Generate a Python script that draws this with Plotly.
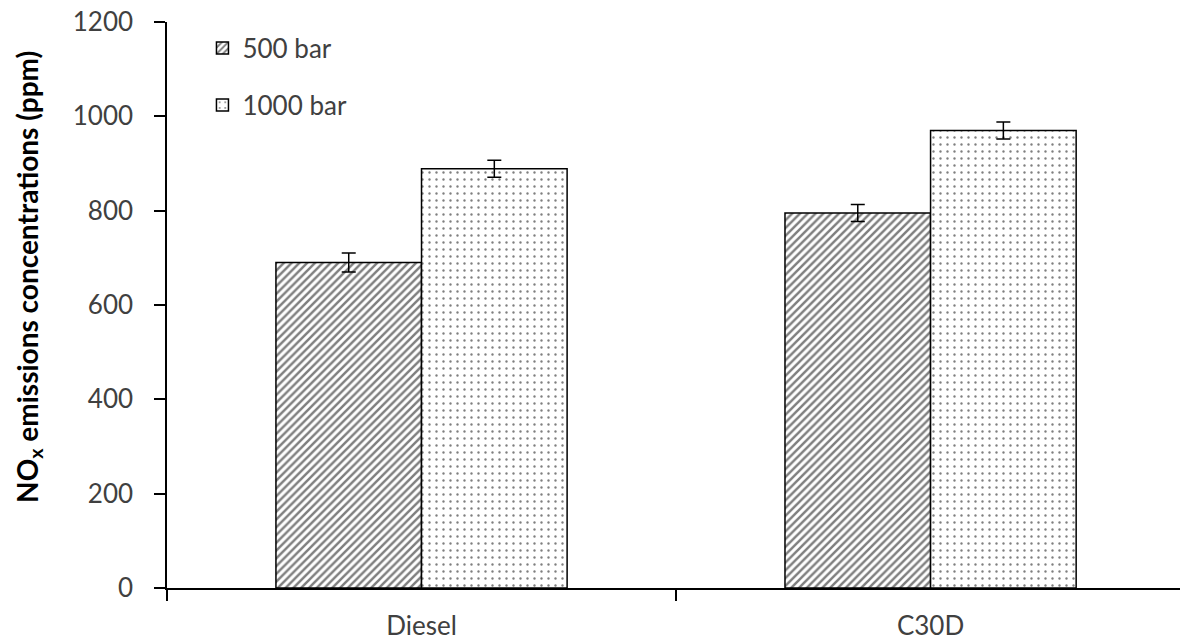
import plotly.graph_objects as go

# NOx concentrations by fuel and injection pressure
fuels = ["Diesel", "C30D"]
nox_500 = [690, 795]
nox_1000 = [889, 970]
err_500 = [20, 18]
err_1000 = [18, 18]
y_ticks = [0, 200, 400, 600, 800, 1000, 1200]

FONT = "Lato"
TEXT_COLOR = "#404040"

fig = go.Figure()
fig.add_trace(go.Bar(
    x=fuels, y=nox_500, name="500 bar",
    error_y=dict(type="data", array=err_500, color="black", thickness=1.5, width=7),
    marker=dict(color="white", line=dict(color="black", width=1.5),
                pattern=dict(shape="/", size=5.5, solidity=0.45, fgcolor="black",
                             bgcolor="white", fillmode="overlay")),
    legend="legend",
))
fig.add_trace(go.Bar(
    x=fuels, y=nox_1000, name="1000 bar",
    error_y=dict(type="data", array=err_1000, color="black", thickness=1.5, width=7),
    marker=dict(color="white", line=dict(color="black", width=1.5),
                pattern=dict(shape=".", size=7, solidity=0.09, fgcolor="black",
                             bgcolor="white", fillmode="overlay")),
    legend="legend2",
))

legend_style = dict(font=dict(family=FONT, size=26, color=TEXT_COLOR),
                    bgcolor="rgba(0,0,0,0)", xanchor="left", yanchor="middle",
                    itemwidth=30)

fig.update_layout(
    width=1180, height=642,
    margin=dict(l=167, r=0, t=22, b=54),
    paper_bgcolor="white", plot_bgcolor="white",
    barmode="group", bargap=0.428, bargroupgap=0,
    showlegend=True,
    legend=dict(x=0.035, y=0.954, **legend_style),
    legend2=dict(x=0.035, y=0.853, **legend_style),
    xaxis=dict(
        range=[-0.5, 1.49], showline=True, linecolor="black", linewidth=1.5,
        ticks="outside", tickson="boundaries", ticklen=11, tickcolor="black",
        tickwidth=1.5, ticklabelstandoff=14,
        tickfont=dict(family=FONT, size=26, color=TEXT_COLOR),
        showgrid=False, zeroline=False,
    ),
    yaxis=dict(
        range=[0, 1200], tickvals=y_ticks, showline=True, linecolor="black",
        linewidth=1.5, ticks="outside", ticklen=11, tickcolor="black", tickwidth=1.5,
        ticklabelstandoff=16,
        tickfont=dict(family=FONT, size=26, color=TEXT_COLOR),
        showgrid=False, zeroline=False,
    ),
    annotations=[dict(
        text="<b>NO<sub>x</sub> emissions concentrations (ppm)</b>",
        textangle=-90, xref="paper", yref="paper", x=-0.137, y=0.55,
        xanchor="center", yanchor="middle", showarrow=False,
        font=dict(family=FONT, size=28, color="black"),
    )],
)

fig.write_html("out.html")
